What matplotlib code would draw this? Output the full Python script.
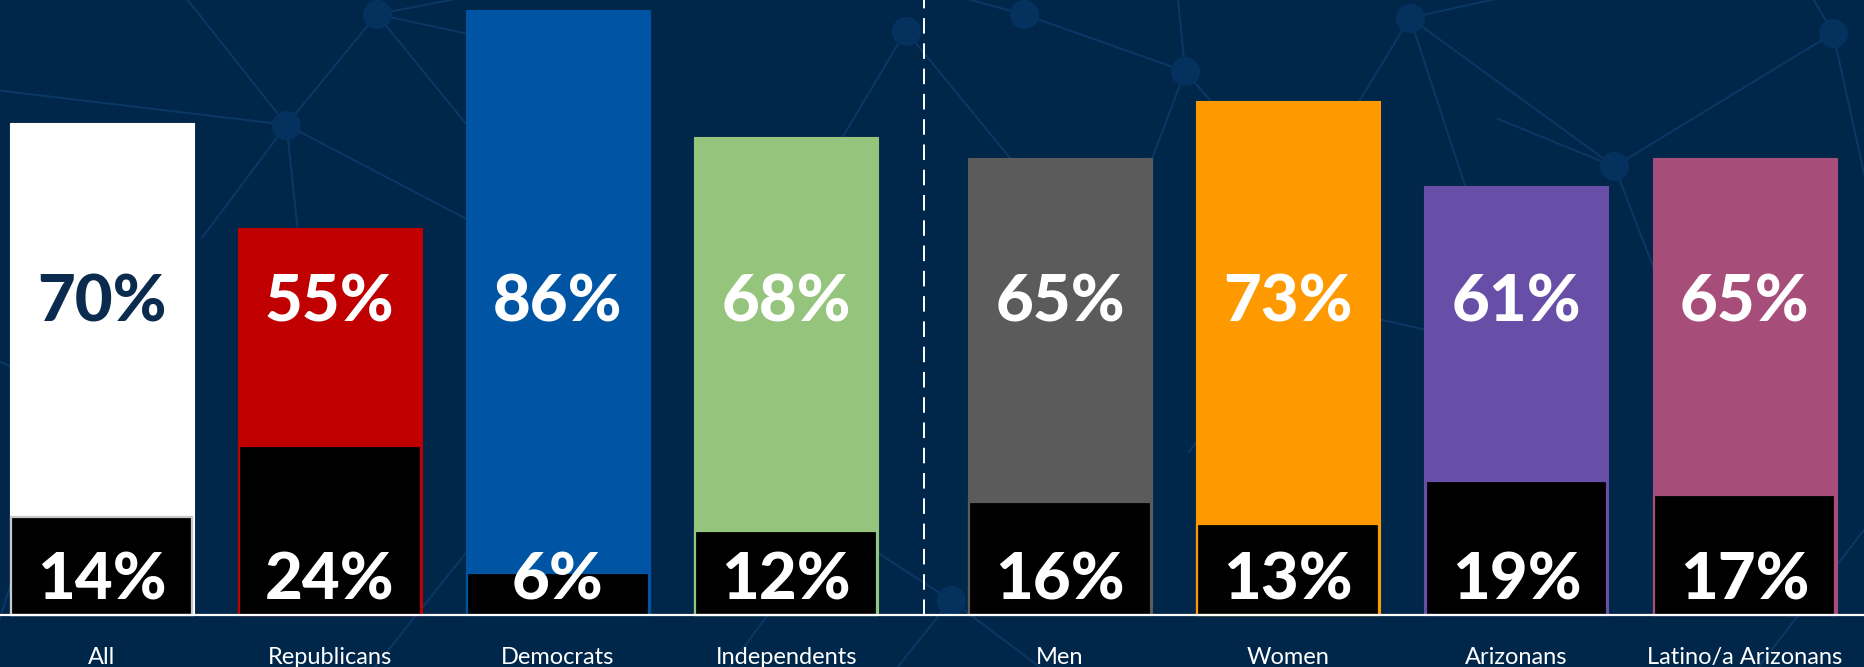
import matplotlib.pyplot as plt

# survey results, percent
categories = ["All", "Republicans", "Democrats", "Independents",
              "Men", "Women", "Arizonans", "Latino/a Arizonans"]
top_values = [70, 55, 86, 68, 65, 73, 61, 65]
bottom_values = [14, 24, 6, 12, 16, 13, 19, 17]
colors = ["#ffffff", "#c00000", "#0054a4", "#95c47d",
          "#5b5b5b", "#ff9900", "#674ea7", "#a64d79"]
positions = [0, 1, 2, 3, 4.2, 5.2, 6.2, 7.2]

bg = "#00264a"
fig = plt.figure(figsize=(18.64, 6.67), dpi=100, facecolor=bg)
ax = fig.add_axes([0, 0, 1, 1])
ax.set_facecolor(bg)
ymin, ymax = -7.39, 87.42
ax.set_xlim(-0.445, 7.723)
ax.set_ylim(ymin, ymax)
ax.axis('off')

# decorative network in the background (pixel coords of a 1568x561 frame)
nodes = [(241, 105), (317, 12), (762, 26), (861, 12), (997, 60), (1186, 15),
         (1358, 140), (1542, 28), (800, 505), (480, 230), (1100, 255), (420, 430)]
edges = [((150, -10), (241, 105)), ((241, 105), (317, 12)), ((-10, 75), (241, 105)),
         ((241, 105), (480, 230)), ((241, 105), (170, 200)), ((241, 105), (265, 330)),
         ((317, 12), (470, 45)), ((317, 12), (470, 200)), ((317, 12), (430, -10)),
         ((762, 26), (700, 130)), ((762, 26), (880, 170)), ((861, 12), (997, 60)),
         ((861, 12), (780, -10)), ((997, 60), (990, -10)), ((997, 60), (940, 210)),
         ((997, 60), (1040, 110)), ((1186, 15), (1110, 140)), ((1186, 15), (1260, 240)),
         ((1186, 15), (1358, 140)), ((1186, 15), (1300, -10)), ((1358, 140), (1542, 28)),
         ((1358, 140), (1420, 300)), ((1358, 140), (1260, 100)), ((1542, 28), (1580, 200)),
         ((1542, 28), (1520, -10)), ((800, 505), (740, 580)), ((800, 505), (900, 580)),
         ((800, 505), (700, 440)), ((480, 230), (420, 430)), ((420, 430), (300, 580)),
         ((-10, 300), (60, 330)), ((60, 330), (0, 520)), ((1100, 255), (1300, 300)),
         ((1100, 255), (1000, 380)), ((1480, 560), (1580, 430)), ((600, 580), (680, 470))]
for (x0, y0), (x1, y1) in edges:
    ax.plot([x0 / 1568, x1 / 1568], [1 - y0 / 561, 1 - y1 / 561], color="#0a3764",
            lw=1.5, transform=ax.transAxes, zorder=0, clip_on=False)
for x, y in nodes:
    ax.plot(x / 1568, 1 - y / 561, "o", ms=21, color="#05315e", mec="none",
            transform=ax.transAxes, zorder=0.5)

bar_w = 0.806
ax.bar(positions, top_values, width=bar_w, color=colors, edgecolor=colors, lw=0.8, zorder=2)
black_edges = ["#c8c8c8"] + colors[1:]
ax.bar(positions, bottom_values, width=bar_w - 0.01, color="black",
       edgecolor=black_edges, lw=1.6, zorder=3)

ax.axhline(0, color="white", lw=1.6, zorder=4)
ax.axvline(3.604, ymin=-ymin / (ymax - ymin), ymax=1, color="white", lw=1.4,
           linestyle=(0, (8, 5)), zorder=4)

for i, x in enumerate(positions):
    top_color = "#0a2a4e" if i == 0 else "white"
    ax.text(x, 44.4, f"{top_values[i]}%", ha="center", va="center", fontsize=47,
            fontweight="black", family="Lato", color=top_color, zorder=5)
    ax.text(x, 4.8, f"{bottom_values[i]}%", ha="center", va="center", fontsize=47,
            fontweight="black", family="Lato", color="white", zorder=5)
    ax.text(x, -6.9, categories[i], ha="center", va="baseline", fontsize=17,
            family="Lato", color="white", zorder=5)

fig.savefig("out.png", dpi=100, facecolor=bg)
